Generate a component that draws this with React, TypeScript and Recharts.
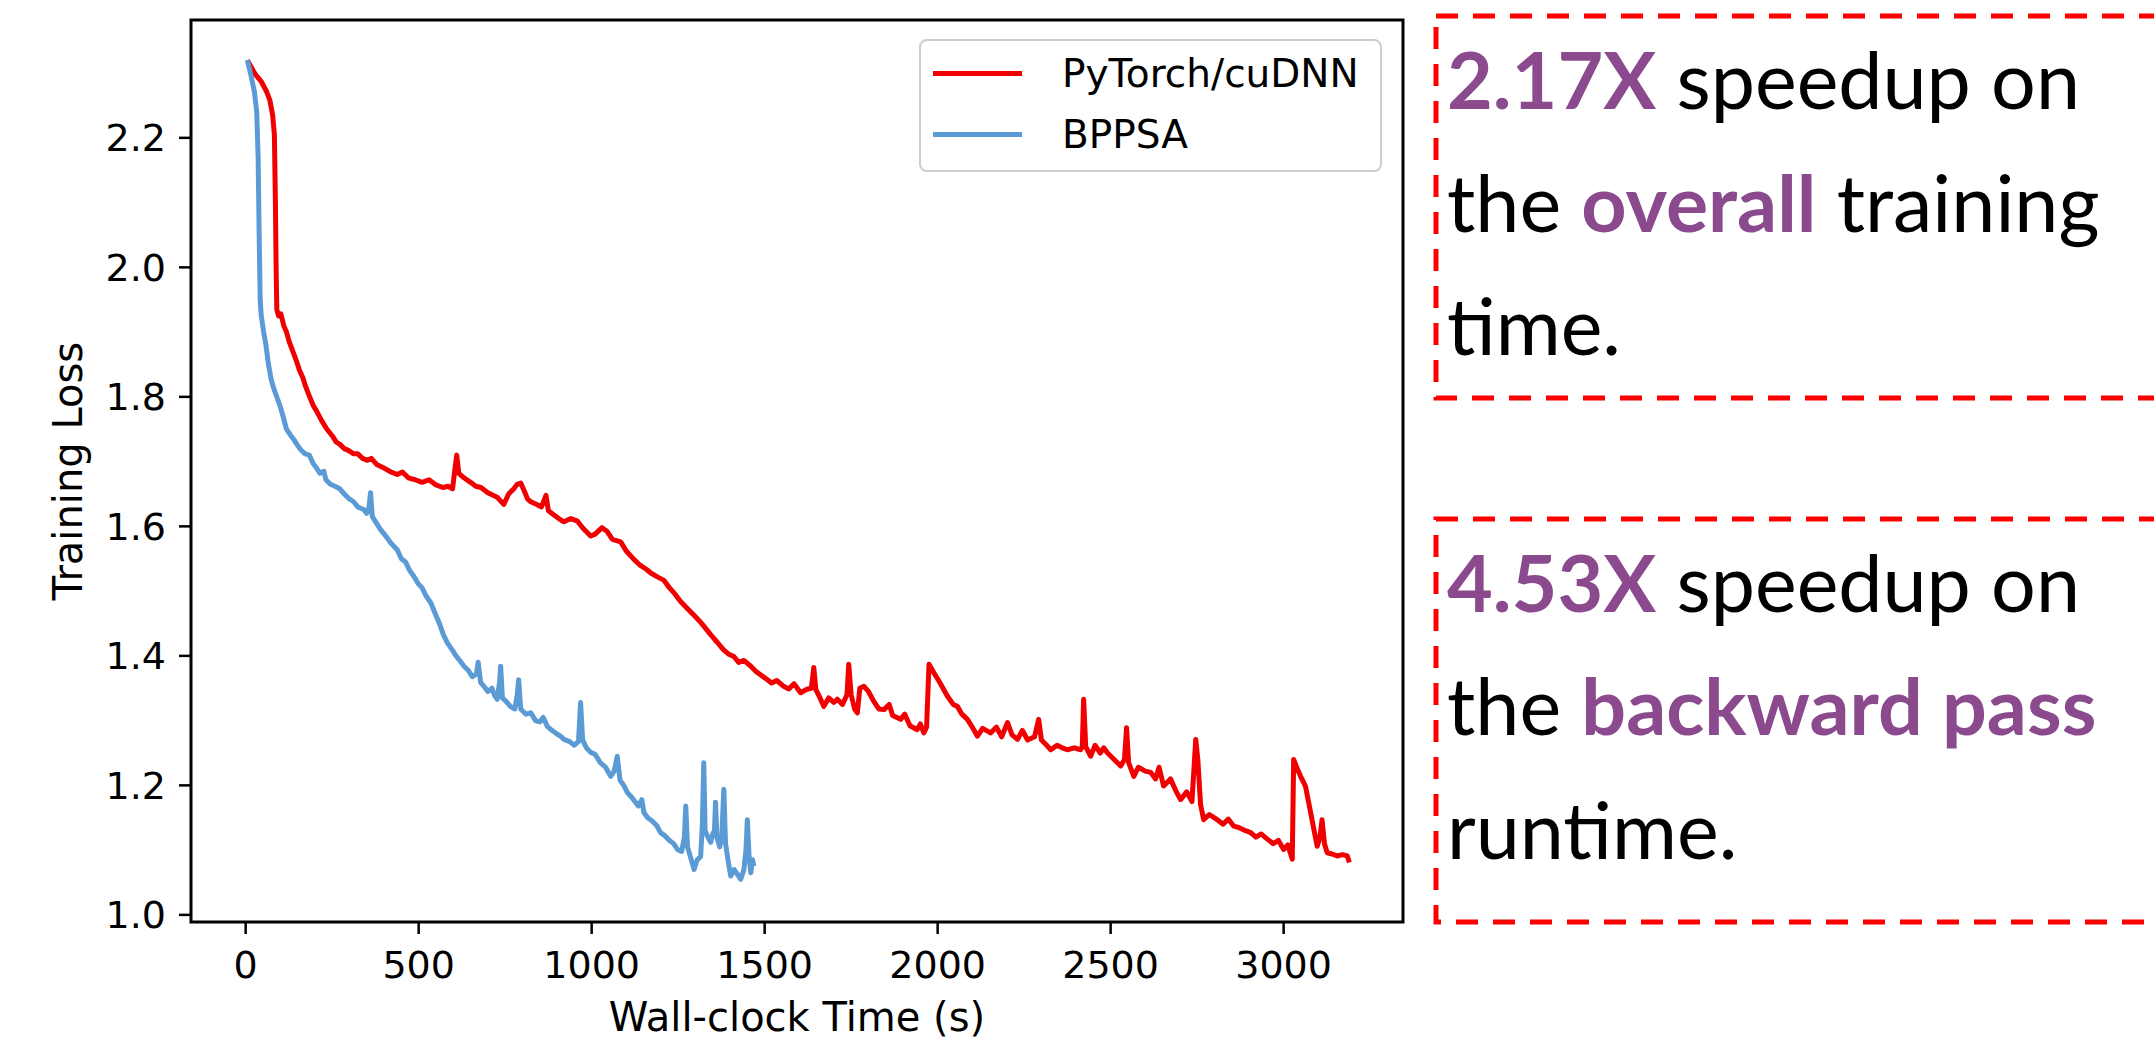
import { LineChart, Line, XAxis, YAxis, ReferenceArea, Legend } from 'recharts'

const FONT = '"DejaVu Sans", sans-serif'
const NOTE_FONT = 'Lato, "Open Sans", sans-serif'
const RED = '#f00000'
const BLUE = '#5b9bd5'
const PURPLE = '#8a4a8d'

const X_TICKS = [0, 500, 1000, 1500, 2000, 2500, 3000]
const Y_TICKS = [1.0, 1.2, 1.4, 1.6, 1.8, 2.0, 2.2]
const X_DOMAIN = [-158, 3345]
const Y_DOMAIN = [0.989, 2.382]
const SERIES_NAMES = ['PyTorch/cuDNN', 'BPPSA']

// [wall-clock seconds, training loss]
const pytorchCurve: [number, number][] = [
  [5, 2.32], [15, 2.31], [28, 2.298], [45, 2.287], [60, 2.272], [70, 2.258], [78, 2.235], [83, 2.205], [86, 2.1], [88, 2.0],
  [90, 1.935], [95, 1.925], [102, 1.928], [110, 1.91], [118, 1.9], [126, 1.885], [135, 1.872], [145, 1.858], [155, 1.842], [165, 1.83],
  [174, 1.815], [185, 1.8], [195, 1.787], [205, 1.778], [220, 1.763], [235, 1.75], [250, 1.74], [262, 1.73], [272, 1.727], [285, 1.72],
  [298, 1.717], [312, 1.712], [324, 1.712], [338, 1.705], [352, 1.702], [363, 1.705], [380, 1.695], [400, 1.69], [420, 1.684], [438, 1.68],
  [453, 1.684], [470, 1.675], [490, 1.672], [510, 1.668], [530, 1.672], [550, 1.664], [570, 1.66], [585, 1.662], [598, 1.658], [604, 1.685],
  [610, 1.71], [616, 1.682], [631, 1.675], [650, 1.668], [665, 1.662], [680, 1.66], [700, 1.652], [715, 1.648], [727, 1.645], [746, 1.634],
  [760, 1.65], [775, 1.658], [785, 1.665], [795, 1.667], [805, 1.655], [815, 1.642], [824, 1.638], [840, 1.634], [855, 1.63], [868, 1.648],
  [875, 1.624], [890, 1.618], [905, 1.612], [920, 1.607], [940, 1.612], [959, 1.608], [975, 1.597], [997, 1.585], [1010, 1.588], [1030, 1.598],
  [1045, 1.592], [1060, 1.58], [1084, 1.576], [1100, 1.562], [1122, 1.549], [1140, 1.54], [1160, 1.533], [1171, 1.528], [1190, 1.522], [1208, 1.517],
  [1225, 1.505], [1240, 1.496], [1257, 1.484], [1275, 1.474], [1295, 1.463], [1315, 1.452], [1330, 1.442], [1345, 1.432], [1363, 1.421], [1380, 1.41],
  [1395, 1.403], [1411, 1.399], [1425, 1.39], [1440, 1.393], [1460, 1.384], [1475, 1.376], [1490, 1.37], [1508, 1.363], [1520, 1.358], [1535, 1.362],
  [1555, 1.353], [1570, 1.349], [1585, 1.357], [1604, 1.343], [1620, 1.348], [1635, 1.35], [1642, 1.382], [1648, 1.348], [1660, 1.335], [1671, 1.322],
  [1685, 1.335], [1700, 1.328], [1710, 1.333], [1725, 1.325], [1738, 1.34], [1743, 1.387], [1750, 1.34], [1760, 1.318], [1768, 1.312], [1775, 1.35],
  [1787, 1.353], [1800, 1.345], [1815, 1.33], [1830, 1.318], [1845, 1.317], [1860, 1.325], [1870, 1.308], [1893, 1.302], [1905, 1.31], [1920, 1.292],
  [1941, 1.286], [1950, 1.295], [1960, 1.281], [1968, 1.29], [1975, 1.387], [1989, 1.374], [2005, 1.36], [2028, 1.338], [2045, 1.325], [2057, 1.322],
  [2070, 1.31], [2086, 1.302], [2100, 1.29], [2115, 1.276], [2130, 1.288], [2153, 1.281], [2170, 1.29], [2185, 1.275], [2202, 1.297], [2215, 1.278],
  [2231, 1.271], [2245, 1.285], [2260, 1.27], [2280, 1.275], [2292, 1.302], [2300, 1.27], [2315, 1.262], [2327, 1.255], [2345, 1.262], [2360, 1.258],
  [2375, 1.255], [2395, 1.258], [2413, 1.255], [2418, 1.26], [2422, 1.333], [2428, 1.26], [2442, 1.245], [2455, 1.262], [2470, 1.25], [2480, 1.258],
  [2491, 1.25], [2510, 1.24], [2529, 1.23], [2540, 1.24], [2546, 1.289], [2552, 1.235], [2567, 1.214], [2580, 1.228], [2600, 1.222], [2616, 1.22],
  [2630, 1.21], [2640, 1.228], [2653, 1.199], [2673, 1.21], [2690, 1.19], [2702, 1.178], [2720, 1.19], [2735, 1.175], [2746, 1.271], [2752, 1.24],
  [2760, 1.17], [2769, 1.147], [2785, 1.155], [2808, 1.147], [2825, 1.14], [2840, 1.148], [2856, 1.137], [2870, 1.135], [2890, 1.13], [2905, 1.127],
  [2920, 1.12], [2935, 1.125], [2953, 1.117], [2970, 1.11], [2985, 1.115], [3000, 1.101], [3012, 1.108], [3025, 1.086], [3029, 1.24], [3040, 1.225],
  [3049, 1.214], [3063, 1.199], [3078, 1.158], [3090, 1.125], [3097, 1.106], [3105, 1.12], [3111, 1.147], [3118, 1.11], [3126, 1.096], [3140, 1.094],
  [3155, 1.091], [3170, 1.093], [3184, 1.091], [3190, 1.081],
]

const bppsaCurve: [number, number][] = [
  [5, 2.32], [15, 2.297], [25, 2.272], [32, 2.24], [36, 2.17], [39, 2.05], [42, 1.95], [45, 1.925], [52, 1.9], [58, 1.882],
  [66, 1.85], [74, 1.826], [83, 1.81], [92, 1.797], [100, 1.785], [108, 1.77], [118, 1.75], [128, 1.742], [138, 1.735], [150, 1.725],
  [160, 1.718], [172, 1.712], [184, 1.71], [195, 1.697], [205, 1.69], [215, 1.682], [226, 1.685], [232, 1.672], [245, 1.665], [258, 1.662],
  [272, 1.658], [285, 1.65], [298, 1.643], [312, 1.638], [324, 1.63], [341, 1.626], [350, 1.62], [356, 1.628], [361, 1.652], [366, 1.615],
  [378, 1.605], [390, 1.595], [405, 1.585], [420, 1.574], [438, 1.564], [450, 1.55], [462, 1.545], [474, 1.532], [486, 1.523], [498, 1.512],
  [510, 1.505], [522, 1.492], [535, 1.482], [548, 1.465], [560, 1.45], [572, 1.432], [583, 1.42], [596, 1.41], [608, 1.4], [620, 1.392],
  [631, 1.384], [643, 1.378], [655, 1.368], [667, 1.372], [672, 1.39], [679, 1.359], [690, 1.352], [700, 1.345], [712, 1.35], [720, 1.338],
  [727, 1.333], [734, 1.36], [737, 1.384], [742, 1.335], [752, 1.33], [765, 1.322], [778, 1.318], [785, 1.34], [789, 1.363], [795, 1.318],
  [810, 1.31], [824, 1.312], [838, 1.3], [850, 1.298], [860, 1.305], [872, 1.291], [885, 1.285], [898, 1.28], [910, 1.276], [920, 1.271],
  [935, 1.268], [950, 1.262], [962, 1.268], [968, 1.328], [974, 1.27], [985, 1.258], [997, 1.251], [1010, 1.248], [1025, 1.235], [1040, 1.228],
  [1055, 1.214], [1065, 1.222], [1074, 1.245], [1082, 1.208], [1093, 1.2], [1103, 1.189], [1115, 1.182], [1125, 1.175], [1135, 1.168], [1145, 1.178],
  [1151, 1.158], [1162, 1.15], [1175, 1.145], [1188, 1.138], [1199, 1.127], [1212, 1.122], [1225, 1.115], [1237, 1.11], [1248, 1.101], [1260, 1.098],
  [1268, 1.12], [1272, 1.168], [1277, 1.105], [1288, 1.085], [1296, 1.07], [1305, 1.085], [1315, 1.09], [1320, 1.14], [1324, 1.235], [1328, 1.13],
  [1336, 1.12], [1344, 1.112], [1350, 1.125], [1355, 1.13], [1358, 1.174], [1362, 1.12], [1370, 1.105], [1376, 1.12], [1382, 1.194], [1387, 1.11],
  [1394, 1.085], [1402, 1.06], [1412, 1.07], [1422, 1.062], [1431, 1.055], [1440, 1.07], [1446, 1.1], [1450, 1.147], [1455, 1.09], [1460, 1.065],
  [1465, 1.085], [1469, 1.075],
]

const pytorchData = pytorchCurve.map(([t, loss]) => ({ t, loss }))
const bppsaData = bppsaCurve.map(([t, loss]) => ({ t, loss }))

function XAxisTitle({ viewBox }: any) {
  const x = (viewBox?.x ?? 191) + (viewBox?.width ?? 1212) / 2
  const y = (viewBox?.y ?? 922) + 109
  return (
    <text x={x} y={y} textAnchor="middle" fontFamily={FONT} fontSize={40} fill="#000">
      Wall-clock Time (s)
    </text>
  )
}

function YAxisTitle({ viewBox }: any) {
  const x = 82
  const y = (viewBox?.y ?? 20) + (viewBox?.height ?? 902) / 2
  return (
    <text x={x} y={y} transform={`rotate(-90, ${x}, ${y})`} textAnchor="middle" fontFamily={FONT} fontSize={40} fill="#000">
      Training Loss
    </text>
  )
}

function LegendBox({ payload }: any) {
  const items = SERIES_NAMES.map((name) => (payload || []).find((p: any) => p.value === name)).filter(Boolean)
  return (
    <div
      style={{
        width: 463,
        height: 133,
        boxSizing: 'border-box',
        border: '2px solid #cdcdcd',
        borderRadius: 8,
        background: '#fff',
        position: 'relative',
        fontFamily: FONT,
        fontSize: 39,
        color: '#000',
      }}
    >
      {items.map((p: any, i: number) => (
        <div
          key={p.value}
          style={{ position: 'absolute', left: 12, top: (i === 0 ? 32 : 93) - 25, height: 50, display: 'flex', alignItems: 'center' }}
        >
          <span style={{ display: 'inline-block', width: 89, height: 5, background: p.color, marginRight: 40 }} />
          <span style={{ whiteSpace: 'nowrap' }}>{p.value}</span>
        </div>
      ))}
    </div>
  )
}

function Notes() {
  const text = { fontFamily: NOTE_FONT, fontSize: 79, fill: '#000' }
  const hi = { fill: PURPLE, fontWeight: 700 }
  return (
    <svg width={734} height={1039} style={{ position: 'absolute', left: 1420, top: 0 }}>
      <rect x={16} y={16} width={800} height={382} fill="none" stroke="#ff0000" strokeWidth={5} strokeDasharray="22 15" />
      <rect x={16} y={519} width={800} height={403} fill="none" stroke="#ff0000" strokeWidth={5} strokeDasharray="22 15" />
      <text x={27} y={109} {...text}>
        <tspan {...hi}>2.17X</tspan> speedup on
      </text>
      <text x={27} y={232} {...text}>
        the <tspan {...hi}>overall</tspan> training
      </text>
      <text x={27} y={355} {...text}>time.</text>
      <text x={27} y={612} {...text}>
        <tspan {...hi}>4.53X</tspan> speedup on
      </text>
      <text x={27} y={735} {...text}>
        the <tspan {...hi}>backward pass</tspan>
      </text>
      <text x={27} y={859} {...text}>runtime.</text>
    </svg>
  )
}

export default function App() {
  const tickStyle = { fill: '#000', fontSize: 38, fontFamily: FONT }
  return (
    <div style={{ position: 'absolute', left: 0, top: 0, width: 2154, height: 1039, background: '#fff', overflow: 'hidden' }}>
      <LineChart width={1430} height={1039} margin={{ top: 20, right: 27, bottom: 0, left: 0 }}>
        <XAxis
          type="number"
          dataKey="t"
          domain={X_DOMAIN}
          allowDataOverflow
          ticks={X_TICKS}
          height={117}
          axisLine={false}
          tickSize={12}
          tickMargin={17}
          tickLine={{ stroke: '#000', strokeWidth: 2.5 }}
          tick={tickStyle}
          label={{ content: (props: any) => <XAxisTitle {...props} /> }}
        />
        <YAxis
          type="number"
          domain={Y_DOMAIN}
          allowDataOverflow
          ticks={Y_TICKS}
          width={191}
          axisLine={false}
          tickSize={12}
          tickMargin={13}
          tickLine={{ stroke: '#000', strokeWidth: 2.5 }}
          tick={tickStyle}
          tickFormatter={(v: number) => v.toFixed(1)}
          label={{ content: (props: any) => <YAxisTitle {...props} /> }}
        />
        <ReferenceArea
          x1={X_DOMAIN[0]}
          x2={X_DOMAIN[1]}
          y1={Y_DOMAIN[0]}
          y2={Y_DOMAIN[1]}
          fill="none"
          stroke="#000"
          strokeWidth={3}
          ifOverflow="visible"
        />
        <Line
          data={pytorchData}
          dataKey="loss"
          name={SERIES_NAMES[0]}
          stroke={RED}
          strokeWidth={5}
          dot={false}
          strokeLinejoin="round"
          isAnimationActive={false}
        />
        <Line
          data={bppsaData}
          dataKey="loss"
          name={SERIES_NAMES[1]}
          stroke={BLUE}
          strokeWidth={5}
          dot={false}
          strokeLinejoin="round"
          isAnimationActive={false}
        />
        <Legend
          verticalAlign="middle"
          align="center"
          wrapperStyle={{ left: 919, top: 39, width: 463, height: 133 }}
          content={(props: any) => <LegendBox {...props} />}
        />
      </LineChart>
      <Notes />
    </div>
  )
}
